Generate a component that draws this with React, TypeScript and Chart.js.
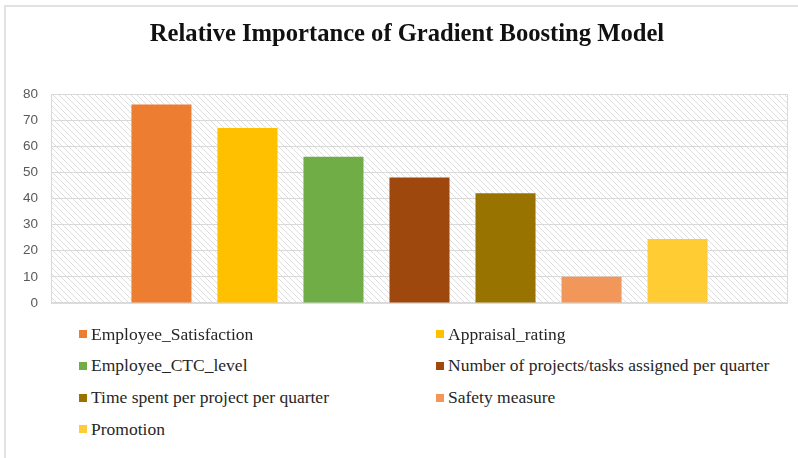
import React, { useEffect, useRef } from "react";
import { Chart, registerables } from "chart.js";

Chart.register(...registerables);

const seriesNames = [
  "Employee_Satisfaction",
  "Appraisal_rating",
  "Employee_CTC_level",
  "Number of projects/tasks assigned per quarter",
  "Time spent per project per quarter",
  "Safety measure",
  "Promotion",
];
const seriesValues = [76, 67, 56, 48, 42, 10, 24.5];
const seriesColors = ["#ED7D31", "#FFC000", "#70AD47", "#9E480E", "#997300", "#F1975A", "#FFCD33"];
const yTicks = [0, 10, 20, 30, 40, 50, 60, 70, 80];
const titleText = "Relative Importance of Gradient Boosting Model";

function makeHatch(): CanvasPattern | string {
  const s = 6;
  const c = document.createElement("canvas");
  c.width = s;
  c.height = s;
  const g = c.getContext("2d");
  if (!g) return "#f2f2f2";
  g.fillStyle = "#ffffff";
  g.fillRect(0, 0, s, s);
  g.strokeStyle = "rgba(0,0,0,0.13)";
  g.lineWidth = 1;
  g.beginPath();
  g.moveTo(-1, -1);
  g.lineTo(s + 1, s + 1);
  g.moveTo(-1, s - 1);
  g.lineTo(1, s + 1);
  g.moveTo(s - 1, -1);
  g.lineTo(s + 1, 1);
  g.stroke();
  const p = g.createPattern(c, "repeat");
  return p || "#f2f2f2";
}

const plotBg = {
  id: "plotBg",
  beforeDraw(chart: any) {
    const { ctx, chartArea } = chart;
    ctx.save();
    ctx.fillStyle = makeHatch();
    ctx.fillRect(chartArea.left, chartArea.top, chartArea.right - chartArea.left, chartArea.bottom - chartArea.top);
    ctx.restore();
  },
  beforeDatasetsDraw(chart: any) {
    const { ctx, chartArea } = chart;
    ctx.save();
    ctx.strokeStyle = "#d9d9d9";
    ctx.lineWidth = 1;
    ctx.strokeRect(chartArea.left + 0.5, chartArea.top + 0.5, chartArea.right - chartArea.left - 1, chartArea.bottom - chartArea.top);
    ctx.restore();
  },
  afterDraw(chart: any) {
    const { ctx } = chart;
    ctx.save();
    ctx.fillStyle = "#111111";
    ctx.font = "bold 24.6px 'Liberation Serif', 'Times New Roman', serif";
    ctx.textAlign = "center";
    ctx.textBaseline = "alphabetic";
    ctx.fillText(titleText, 407, 41);
    ctx.restore();
  },
};

export default function App() {
  const ref = useRef<HTMLCanvasElement>(null);

  useEffect(() => {
    if (!ref.current) return;
    const chart = new Chart(ref.current, {
      type: "bar",
      data: {
        labels: [""],
        datasets: seriesNames.map((name, i) => ({
          label: name,
          data: [seriesValues[i]],
          backgroundColor: seriesColors[i],
          borderWidth: 0,
        })),
      },
      options: {
        animation: false,
        responsive: false,
        maintainAspectRatio: false,
        categoryPercentage: 0.817,
        barPercentage: 0.698,
        layout: { padding: { top: 94, right: 10, bottom: 7, left: 0 } },
        plugins: {
          legend: { display: false },
          tooltip: { enabled: false },
          title: { display: false },
        },
        scales: {
          x: {
            grid: { display: false },
            border: { display: false },
            ticks: { display: false },
            afterFit: (s: any) => {
              s.height = 0;
            },
          },
          y: {
            min: 0,
            max: 80,
            afterBuildTicks: (s: any) => {
              s.ticks = yTicks.map((v) => ({ value: v }));
            },
            grid: { color: "#d9d9d9", lineWidth: 1, drawTicks: false },
            border: { display: true, color: "#d9d9d9" },
            ticks: {
              padding: 13,
              color: "#595959",
              font: { family: "'Liberation Sans', Arial, sans-serif", size: 13.5 },
            },
            afterFit: (s: any) => {
              s.width = 51;
            },
          },
        },
      },
      plugins: [plotBg],
    });
    return () => chart.destroy();
  }, []);

  const legendLeft = [79, 436];
  const legendTop = 334;
  const rowGap = 31.8;

  return (
    <div style={{ position: "fixed", left: 0, top: 0, width: 798, height: 458, background: "#ffffff", overflow: "hidden" }}>
      <div
        style={{
          position: "absolute",
          left: 4,
          top: 5,
          width: 800,
          height: 460,
          borderLeft: "2px solid #e2e2e2",
          borderTop: "2px solid #e2e2e2",
        }}
      />
      <canvas ref={ref} width={798} height={324} style={{ position: "absolute", left: 0, top: 0, width: 798, height: 324 }} />
      {seriesNames.map((name, i) => {
        const col = i % 2;
        const row = Math.floor(i / 2);
        return (
          <div
            key={name}
            style={{
              position: "absolute",
              left: legendLeft[col],
              top: legendTop + row * rowGap - 12,
              height: 24,
              display: "flex",
              alignItems: "center",
              whiteSpace: "nowrap",
              fontFamily: '"Liberation Serif", serif',
              fontSize: 17.5,
              color: "#262626",
            }}
          >
            <span style={{ display: "inline-block", width: 8, height: 8, background: seriesColors[i], marginRight: 4 }} />
            <span>{name}</span>
          </div>
        );
      })}
    </div>
  );
}
